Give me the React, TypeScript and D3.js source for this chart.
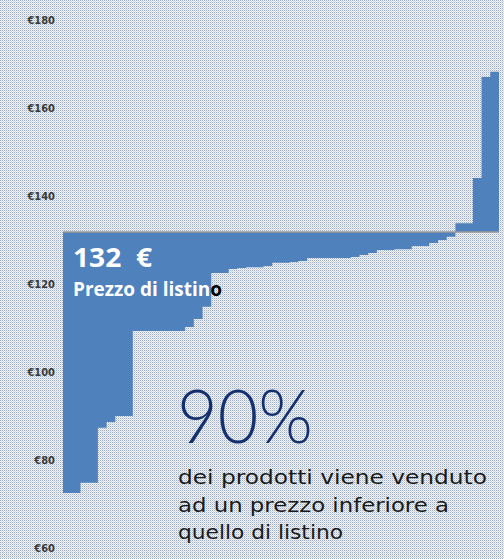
import React from "react";
import * as d3 from "d3";

// Prices of the 50 products, sorted ascending (€)
const prices: number[] = [
  72.7, 72.7, 75, 75, 87.5, 88.8, 90.2, 90.2,
  109.5, 109.5, 109.5, 109.5, 109.5, 109.5, 110.4, 112.2, 115,
  122.7, 122.7, 123.6, 123.8, 124, 124, 124.3, 125, 125, 125.2, 125.4,
  126.1, 126.1, 126.1, 126.1, 126.1, 126.3, 126.8, 127.2, 127.9, 127.9,
  128.1, 128.1, 128.8, 128.8, 129.5, 130.2, 130.9,
  134, 134, 144.3, 167.2, 168.4,
];
const listPrice = 132;
const yTicks: number[] = [180, 160, 140, 120, 100, 80, 60];
const yTickLabels: string[] = ["€180", "€160", "€140", "€120", "€100", "€80", "€60"];
const priceLabel = "132  €";
const priceCaption = "Prezzo di listin";
const priceCaptionEnd = "o";
const headline = "90%";
const captionLines: string[] = [
  "dei prodotti viene venduto",
  "ad un prezzo inferiore a",
  "quello di listino",
];

const W = 504;
const H = 559;

export default function App() {
  const x = d3.scaleLinear().domain([0, prices.length]).range([63, 499]);
  const y = d3.scaleLinear().domain([60, 180]).range([548.8, 20.8]);

  const pts = prices.map((v, i) => ({ i, v }));
  pts.push({ i: prices.length, v: prices[prices.length - 1] });

  const area = d3
    .area<{ i: number; v: number }>()
    .x((d) => x(d.i))
    .y0(y(listPrice))
    .y1((d) => y(d.v))
    .curve(d3.curveStepAfter);

  const captionWidths = [309, 271, 165];

  return (
    <svg
      width={W}
      height={H}
      style={{ position: "absolute", left: 0, top: 0, display: "block" }}
    >
      <defs>
        <pattern id="bg" width={2} height={2} patternUnits="userSpaceOnUse">
          <rect x={0} y={0} width={2} height={2} fill="#f1f3f7" />
          <rect x={0} y={0} width={1} height={1} fill="#9fadc2" />
          <rect x={1} y={1} width={1} height={1} fill="#cfd7e2" />
        </pattern>
      </defs>
      <rect x={0} y={0} width={W} height={H} fill="url(#bg)" />

      {yTicks.map((t, k) => (
        <text
          key={t}
          x={55}
          y={y(t)}
          textAnchor="end"
          dominantBaseline="middle"
          fontFamily="DejaVu Sans Condensed, DejaVu Sans"
          fontWeight="bold"
          fontSize={11}
          fill="#3a3a3a"
        >
          {yTickLabels[k]}
        </text>
      ))}

      <path d={area(pts) || ""} fill="#4f81bd" />
      <line
        x1={x(0)}
        x2={x(prices.length)}
        y1={y(listPrice)}
        y2={y(listPrice)}
        stroke="#9a9a9a"
        strokeWidth={1.5}
      />

      <text
        x={73}
        y={267}
        fontFamily="Open Sans"
        fontWeight={700}
        fontSize={27}
        fill="#ffffff"
        style={{ whiteSpace: "pre" }}
        textLength={79}
        lengthAdjust="spacingAndGlyphs"
      >
        {priceLabel}
      </text>
      <text
        x={73}
        y={295.5}
        fontFamily="Open Sans"
        fontWeight={700}
        fontSize={19}
        fill="#ffffff"
      >
        {priceCaption}
        <tspan fill="#000000">{priceCaptionEnd}</tspan>
      </text>

      <text
        x={177}
        y={443}
        fontFamily="Lato"
        fontWeight={300}
        fontSize={74}
        fill="#14306e"
        textLength={136}
        lengthAdjust="spacingAndGlyphs"
      >
        {headline}
      </text>

      {captionLines.map((line, k) => (
        <text
          key={k}
          x={178}
          y={484 + k * 27.5}
          fontFamily="DejaVu Sans"
          fontSize={20}
          fill="#1a1a1a"
          textLength={captionWidths[k]}
          lengthAdjust="spacingAndGlyphs"
        >
          {line}
        </text>
      ))}
    </svg>
  );
}
